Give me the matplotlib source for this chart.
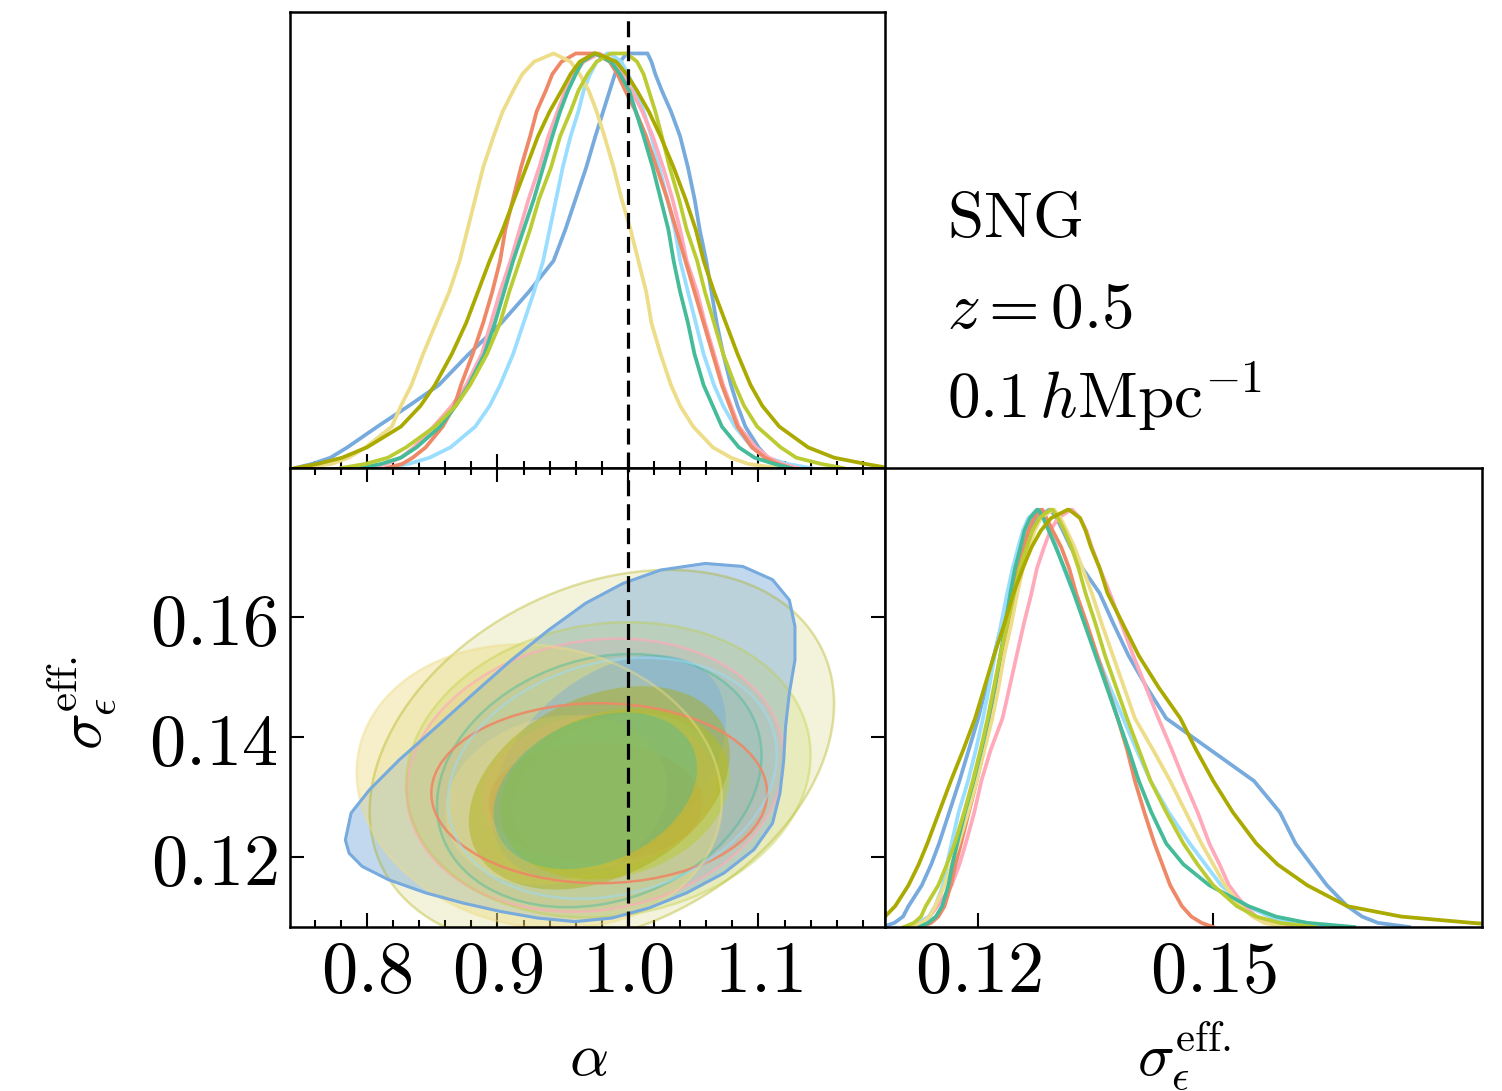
import matplotlib
matplotlib.use("Agg")
import matplotlib.pyplot as plt
from matplotlib.ticker import FixedLocator, FuncFormatter
from matplotlib.patches import Circle, Polygon
from matplotlib.transforms import Affine2D

plt.rcParams['mathtext.fontset'] = 'cm'
plt.rcParams['font.family'] = ['DejaVu Serif']

# ---------------- data ----------------
names = ['A', 'B', 'C', 'D', 'E', 'F', 'G', 'H']
colors = {'A': '#77AADD', 'B': '#99DDFF', 'C': '#FFAABB', 'D': '#EE8866',
          'E': '#EEDD88', 'F': '#44BB99', 'G': '#BBCC33', 'H': '#AAAA00'}

# normalised heights at which the marginal curves were read (ascending)
levels = [0.0, 0.01, 0.025, 0.05, 0.1, 0.15, 0.2, 0.275, 0.35, 0.425,
          0.5, 0.575, 0.65, 0.725, 0.8, 0.86, 0.91, 0.95, 0.98, 1.0]

# alpha marginals: position of the left / right flank at each level
alpha_left = {
    'A': [.745, .758, .772, .785, .808, .832, .855, .878, .903, .924, .943, .952, .960, .968, .975, .981, .986, .990, .994, .999],
    'B': [.815, .832, .848, .864, .883, .894, .902, .912, .920, .928, .935, .940, .945, .950, .956, .962, .966, .971, .976, .984],
    'C': [.800, .815, .826, .836, .851, .865, .876, .888, .895, .902, .910, .917, .924, .932, .939, .946, .952, .959, .966, .978],
    'D': [.815, .827, .835, .845, .858, .867, .872, .881, .889, .896, .902, .906, .912, .918, .925, .930, .937, .942, .949, .960],
    'E': [.750, .773, .786, .799, .819, .826, .834, .843, .853, .863, .871, .877, .883, .889, .897, .904, .912, .919, .928, .943],
    'F': [.795, .811, .826, .838, .856, .868, .878, .890, .898, .905, .912, .920, .928, .935, .942, .948, .954, .960, .965, .975],
    'G': [.780, .799, .816, .830, .852, .868, .879, .892, .902, .909, .917, .925, .932, .941, .948, .956, .962, .969, .976, .987],
    'H': [.745, .762, .781, .800, .826, .841, .852, .865, .876, .885, .894, .904, .913, .922, .931, .940, .949, .956, .963, .974],
}
alpha_right = {
    'A': [1.130, 1.115, 1.107, 1.100, 1.090, 1.084, 1.079, 1.073, 1.068, 1.064, 1.060, 1.055, 1.051, 1.046, 1.040, 1.033, 1.026, 1.021, 1.018, 1.015],
    'B': [1.140, 1.122, 1.107, 1.095, 1.082, 1.073, 1.066, 1.058, 1.052, 1.046, 1.040, 1.036, 1.030, 1.024, 1.018, 1.012, 1.006, 1.000, .995, .986],
    'C': [1.130, 1.118, 1.108, 1.098, 1.085, 1.079, 1.073, 1.066, 1.059, 1.053, 1.045, 1.040, 1.034, 1.027, 1.019, 1.011, 1.003, .996, .990, .978],
    'D': [1.125, 1.115, 1.105, 1.095, 1.084, 1.078, 1.072, 1.065, 1.058, 1.051, 1.044, 1.037, 1.030, 1.022, 1.014, 1.006, .998, .992, .986, .975],
    'E': [1.115, 1.092, 1.079, 1.065, 1.050, 1.040, 1.033, 1.025, 1.018, 1.014, 1.008, 1.002, .995, .989, .982, .976, .970, .963, .956, .943],
    'F': [1.125, 1.112, 1.097, 1.085, 1.072, 1.065, 1.058, 1.051, 1.046, 1.040, 1.035, 1.031, 1.025, 1.019, 1.012, 1.006, 1.001, .994, .987, .975],
    'G': [1.165, 1.148, 1.129, 1.117, 1.099, 1.089, 1.082, 1.073, 1.066, 1.059, 1.053, 1.045, 1.039, 1.032, 1.026, 1.021, 1.016, 1.012, 1.007, .999],
    'H': [1.200, 1.182, 1.158, 1.138, 1.116, 1.103, 1.094, 1.084, 1.075, 1.066, 1.058, 1.052, 1.044, 1.035, 1.025, 1.016, 1.007, .999, .991, .976],
}

# sigma_eps^eff marginals
sig_left = {
    'A': [.1078, .1093, .1104, .1111, .1128, .1140, .1150, .1163, .1176, .1188, .1200, .1210, .1220, .1230, .1240, .1249, .1259, .1267, .1276, .1290],
    'B': [.1110, .1123, .1137, .1145, .1155, .1160, .1166, .1175, .1187, .1197, .1206, .1214, .1221, .1229, .1237, .1244, .1251, .1257, .1264, .1275],
    'C': [.1115, .1128, .1138, .1148, .1166, .1176, .1184, .1195, .1204, .1216, .1231, .1240, .1249, .1258, .1268, .1275, .1284, .1292, .1302, .1318],
    'D': [.1128, .1140, .1149, .1157, .1165, .1171, .1178, .1188, .1198, .1207, .1215, .1223, .1230, .1238, .1245, .1251, .1258, .1264, .1271, .1280],
    'E': [.1115, .1128, .1138, .1145, .1157, .1166, .1175, .1187, .1198, .1208, .1218, .1226, .1233, .1242, .1250, .1257, .1265, .1272, .1280, .1295],
    'F': [.1125, .1136, .1146, .1154, .1162, .1167, .1173, .1183, .1194, .1204, .1213, .1221, .1228, .1235, .1241, .1247, .1254, .1259, .1266, .1275],
    'G': [.1105, .1118, .1127, .1133, .1149, .1160, .1170, .1182, .1193, .1203, .1212, .1220, .1228, .1237, .1246, .1253, .1262, .1269, .1278, .1292],
    'H': [.1050, .1068, .1081, .1094, .1111, .1124, .1135, .1150, .1165, .1181, .1196, .1208, .1220, .1233, .1245, .1257, .1268, .1280, .1293, .1314],
}
sig_right = {
    'A': [.1750, .1710, .1690, .1671, .1645, .1625, .1605, .1585, .1552, .1496, .1440, .1415, .1392, .1373, .1355, .1333, .1318, .1308, .1300, .1292],
    'B': [.1640, .1600, .1572, .1543, .1510, .1490, .1470, .1443, .1420, .1402, .1385, .1368, .1352, .1337, .1322, .1309, .1300, .1292, .1284, .1276],
    'C': [.1600, .1570, .1555, .1540, .1520, .1508, .1495, .1480, .1463, .1447, .1430, .1414, .1398, .1383, .1368, .1355, .1345, .1338, .1330, .1320],
    'D': [.1500, .1485, .1472, .1460, .1445, .1435, .1425, .1412, .1400, .1390, .1378, .1365, .1352, .1339, .1325, .1316, .1306, .1295, .1287, .1282],
    'E': [.1590, .1565, .1550, .1535, .1515, .1500, .1485, .1465, .1445, .1423, .1400, .1386, .1372, .1358, .1345, .1333, .1323, .1313, .1305, .1297],
    'F': [.1680, .1620, .1580, .1545, .1495, .1462, .1440, .1421, .1405, .1392, .1378, .1364, .1350, .1336, .1322, .1310, .1299, .1290, .1283, .1277],
    'G': [.1630, .1585, .1555, .1530, .1500, .1480, .1462, .1440, .1420, .1405, .1390, .1376, .1362, .1350, .1337, .1328, .1319, .1310, .1302, .1295],
    'H': [.1900, .1830, .1740, .1671, .1620, .1582, .1555, .1525, .1500, .1478, .1458, .1430, .1405, .1385, .1365, .1355, .1344, .1337, .1330, .1316],
}

# 2D contours.  Blue 95% region traced as an outline (alpha, sigma)
blue_outer_alpha = [.7834, .7878, .8020, .8249, .8535, .8821, .9107, .9392, .9678, .9965, 1.0250, 1.0593,
                    1.0880, 1.1108, 1.1237, 1.1280, 1.1280, 1.1237, 1.1208, 1.1194, 1.1165, 1.1108,
                    1.0965, 1.0736, 1.0451, 1.0165, .9879, .9593, .9307, .9021, .8735, .8449, .8163, .7963, .7863]
blue_outer_sigma = [.1228, .1273, .1312, .1362, .1417, .1473, .1528, .1578, .1623, .1656, .1678, .1689,
                    .1684, .1662, .1628, .1584, .1528, .1473, .1417, .1362, .1306, .1256,
                    .1212, .1173, .1140, .1115, .1098, .1092, .1098, .1109, .1123, .1140, .1162, .1184, .1206]

# elliptical contours: centre, half-width in alpha, half-height in sigma, tilt
c95_names = ['H', 'F', 'D', 'C', 'B', 'E', 'G']
c95_cx = {'B': .988, 'C': .975, 'D': .978, 'E': .932, 'F': .978, 'G': .985, 'H': .980}
c95_cy = {'B': .1331, 'C': .1336, 'D': .1306, 'E': .1317, 'F': .1327, 'G': .1345, 'H': .1365}
c95_a = {'B': .126, 'C': .1444, 'D': .1287, 'E': .140, 'F': .1244, 'G': .155, 'H': .178}
c95_b = {'B': .0197, 'C': .0226, 'D': .0150, 'E': .0236, 'F': .0207, 'G': .0245, 'H': .030}
c95_k = {'B': .2, 'C': .12, 'D': 0.0, 'E': -.1, 'F': .2, 'G': .1, 'H': .3}

c68_names = ['A', 'B', 'C', 'D', 'E', 'G', 'H', 'F']
c68_cx = {'A': .985, 'B': .990, 'C': .978, 'D': .975, 'E': .945, 'F': .975, 'G': .990, 'H': .978}
c68_cy = {'A': .135, 'B': .1310, 'C': .1310, 'D': .1290, 'E': .1295, 'F': .1310, 'G': .1305, 'H': .1315}
c68_a = {'A': .090, 'B': .078, 'C': .090, 'D': .082, 'E': .085, 'F': .078, 'G': .088, 'H': .100}
c68_b = {'A': .017, 'B': .0125, 'C': .013, 'D': .0100, 'E': .014, 'F': .0125, 'G': .014, 'H': .016}
c68_k = {'A': .45, 'B': .25, 'C': .1, 'D': 0.0, 'E': .15, 'F': .3, 'G': .2, 'H': .35}

truth_alpha = 1.0
alpha_ticks = [0.8, 0.9, 1.0, 1.1]
alpha_minor = [0.76, 0.78, 0.82, 0.84, 0.86, 0.88, 0.92, 0.94, 0.96, 0.98,
               1.02, 1.04, 1.06, 1.08, 1.12, 1.14, 1.16, 1.18]
sig_ticks_y = [0.12, 0.14, 0.16]
sig_ticks_x = [0.12, 0.15]

# ---------------- style ----------------
fill95 = {'H': .14, 'F': .25, 'D': .25, 'C': .25, 'B': .25, 'A': .45, 'E': .45, 'G': .18}
fill68 = {'A': .40, 'B': .38, 'C': .35, 'D': .35, 'E': .35, 'G': .50, 'H': .40, 'F': .40}
edge95 = {'H': .35, 'F': .45, 'D': .9, 'C': .65, 'B': .5, 'E': .45, 'G': .35}

# ---------------- figure ----------------
fig = plt.figure(figsize=(15.02, 10.91), dpi=100)
ax_t = fig.add_axes([0.1931, 0.5710, 0.3961, 0.4180])
ax_c = fig.add_axes([0.1931, 0.1503, 0.3961, 0.4207])
ax_r = fig.add_axes([0.5892, 0.1503, 0.3975, 0.4207])

alim = (0.741, 1.197)
slim = (0.1083, 0.1848)
srlim = (0.1081, 0.1843)

for n in names:
    c = colors[n]
    ya = levels + levels[::-1]
    ax_t.plot(alpha_left[n] + alpha_right[n][::-1], ya, color=c, lw=2.7,
              solid_joinstyle='round', zorder=3)
    ax_r.plot(sig_left[n] + sig_right[n][::-1], ya, color=c, lw=2.7,
              solid_joinstyle='round', zorder=3)


def ellipse(ax, cx, cy, a, b, k, **kw):
    tr = Affine2D.from_values(a, k * b, 0.0, b, cx, cy) + ax.transData
    p = Circle((0.0, 0.0), 1.0, transform=tr, **kw)
    ax.add_patch(p)
    return p


blue_xy = list(zip(blue_outer_alpha, blue_outer_sigma))

# 95% fills (blue inserted in its place of the stack)
for n in ['H', 'F', 'D', 'C', 'B', 'A', 'E', 'G']:
    if n == 'A':
        ax_c.add_patch(Polygon(blue_xy, closed=True, facecolor=colors['A'],
                               alpha=fill95['A'], edgecolor='none', zorder=2))
    else:
        ellipse(ax_c, c95_cx[n], c95_cy[n], c95_a[n], c95_b[n], c95_k[n],
                facecolor=colors[n], alpha=fill95[n], edgecolor='none', zorder=2)

# 68% fills
for n in c68_names:
    ellipse(ax_c, c68_cx[n], c68_cy[n], c68_a[n], c68_b[n], c68_k[n],
            facecolor=colors[n], alpha=fill68[n], edgecolor='none', zorder=2.2)

# 95% outlines
for n in c95_names:
    ellipse(ax_c, c95_cx[n], c95_cy[n], c95_a[n], c95_b[n], c95_k[n],
            facecolor='none', edgecolor=colors[n], lw=1.8, alpha=edge95[n], zorder=2.6)
ax_c.add_patch(Polygon(blue_xy, closed=True, facecolor='none', edgecolor=colors['A'],
                       lw=2.2, joinstyle='round', zorder=2.7))

for ax in (ax_t, ax_c):
    ax.axvline(truth_alpha, color='black', lw=2.3, ls=(0, (5, 2.5)), zorder=5)

ax_t.set_xlim(*alim); ax_t.set_ylim(0, 1.1)
ax_c.set_xlim(*alim); ax_c.set_ylim(*slim)
ax_r.set_xlim(*srlim); ax_r.set_ylim(0, 1.1)

fmt1 = FuncFormatter(lambda v, p: r'$%.1f$' % v)
fmt2 = FuncFormatter(lambda v, p: r'$%.2f$' % v)

for ax in (ax_t, ax_c, ax_r):
    for s in ax.spines.values():
        s.set_linewidth(1.8)
        s.set_zorder(6)

ax_t.xaxis.set_major_locator(FixedLocator(alpha_ticks))
ax_t.xaxis.set_minor_locator(FixedLocator(alpha_minor))
ax_t.set_yticks([])
ax_t.tick_params(axis='x', which='both', direction='in', bottom=True, top=False,
                 labelbottom=False, width=1.5)
ax_t.tick_params(axis='x', which='major', length=10)
ax_t.tick_params(axis='x', which='minor', length=5)

ax_c.xaxis.set_major_locator(FixedLocator(alpha_ticks))
ax_c.xaxis.set_minor_locator(FixedLocator(alpha_minor))
ax_c.xaxis.set_major_formatter(fmt1)
ax_c.yaxis.set_major_locator(FixedLocator(sig_ticks_y))
ax_c.yaxis.set_major_formatter(fmt2)
ax_c.tick_params(axis='x', which='both', direction='in', bottom=True, top=True, width=1.5)
ax_c.tick_params(axis='x', which='major', length=10, labelsize=52, pad=7)
ax_c.tick_params(axis='x', which='minor', length=5)
ax_c.tick_params(axis='y', which='major', direction='in', left=True, right=True,
                 length=10, width=1.5, labelsize=52, pad=9)

ax_r.xaxis.set_major_locator(FixedLocator(sig_ticks_x))
ax_r.xaxis.set_major_formatter(fmt2)
ax_r.set_yticks([])
ax_r.tick_params(axis='x', which='major', direction='in', bottom=True, top=False,
                 length=10, width=1.5, labelsize=52, pad=7)

fig.text(0.3916, 0.0147, r'$\alpha$', fontsize=44, ha='center', va='baseline')
fig.text(0.7880, 0.0147, r'$\sigma_\epsilon^{\mathrm{eff.}}$', fontsize=44, ha='center', va='baseline')
fig.text(0.055, 0.356, r'$\sigma_\epsilon^{\mathrm{eff.}}$', fontsize=44, ha='center', va='center',
         rotation=90)

fig.text(0.6305, 0.7828, r'$\mathrm{SNG}$', fontsize=47, ha='left', va='baseline')
fig.text(0.6305, 0.6994, r'$z = 0.5$', fontsize=47, ha='left', va='baseline')
fig.text(0.6305, 0.6169, r'$0.1\,h\mathrm{Mpc}^{-1}$', fontsize=47, ha='left', va='baseline')

fig.savefig('out.png', dpi=100)
